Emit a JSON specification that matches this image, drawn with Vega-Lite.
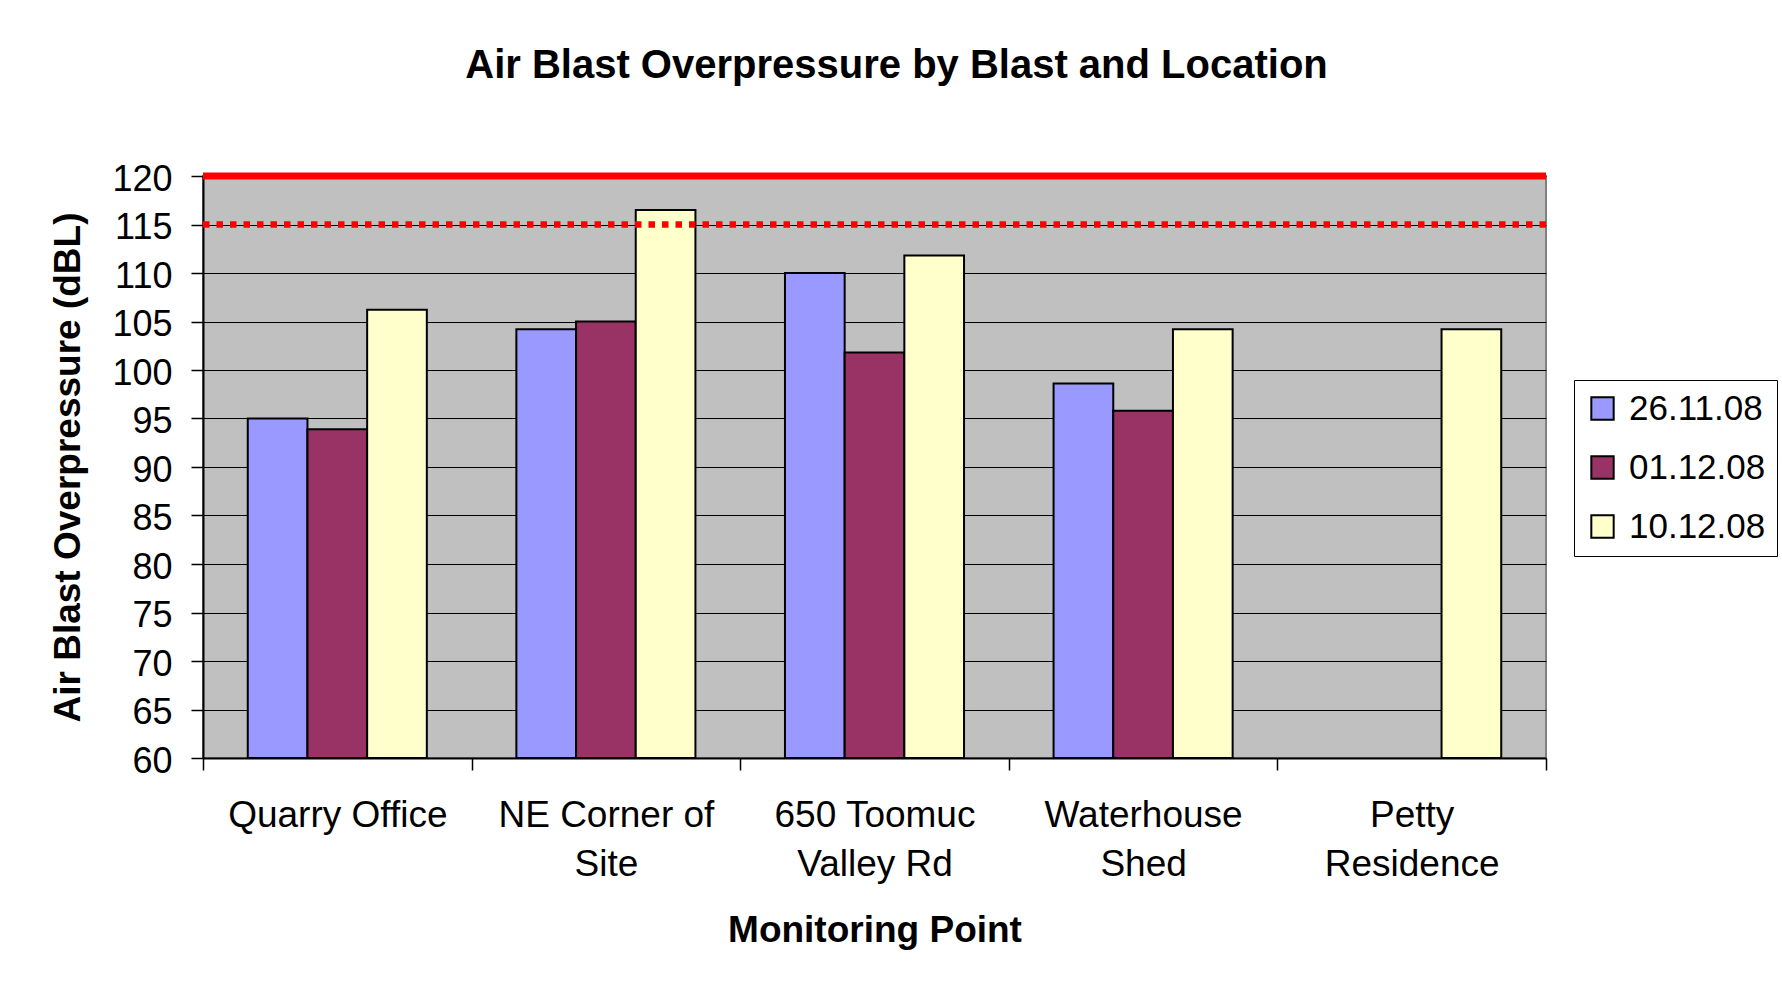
{
  "$schema": "https://vega.github.io/schema/vega-lite/v6.json",
  "width": 1343,
  "height": 582,
  "autosize": {"type": "none"},
  "padding": {"left": 203, "top": 176, "right": 236, "bottom": 234},
  "background": "white",
  "title": {
    "text": "Air Blast Overpressure by Blast and Location",
    "fontSize": 40,
    "font": "Liberation Sans",
    "fontWeight": "bold",
    "color": "black",
    "anchor": "middle",
    "frame": "group",
    "offset": 75,
    "dx": 22
  },
  "config": {
    "font": "Liberation Sans",
    "view": {"fill": "#C0C0C0", "stroke": "#808080", "strokeWidth": 2}
  },
  "datasets": {
    "blasts": [
      {"location": "Quarry Office", "blast": "26.11.08", "dBL": 95.0},
      {"location": "Quarry Office", "blast": "01.12.08", "dBL": 93.9},
      {"location": "Quarry Office", "blast": "10.12.08", "dBL": 106.2},
      {"location": "NE Corner of Site", "blast": "26.11.08", "dBL": 104.2},
      {"location": "NE Corner of Site", "blast": "01.12.08", "dBL": 105.0},
      {"location": "NE Corner of Site", "blast": "10.12.08", "dBL": 116.5},
      {"location": "650 Toomuc Valley Rd", "blast": "26.11.08", "dBL": 110.0},
      {"location": "650 Toomuc Valley Rd", "blast": "01.12.08", "dBL": 101.8},
      {"location": "650 Toomuc Valley Rd", "blast": "10.12.08", "dBL": 111.8},
      {"location": "Waterhouse Shed", "blast": "26.11.08", "dBL": 98.6},
      {"location": "Waterhouse Shed", "blast": "01.12.08", "dBL": 95.8},
      {"location": "Waterhouse Shed", "blast": "10.12.08", "dBL": 104.2},
      {"location": "Petty Residence", "blast": "10.12.08", "dBL": 104.2}
    ],
    "limitHigh": [{"dBL": 120}],
    "limitLow": [{"dBL": 115}]
  },
  "layer": [
    {
      "data": {"name": "blasts"},
      "mark": {"type": "bar", "stroke": "black", "strokeWidth": 2},
      "encoding": {
        "x": {
          "field": "location",
          "type": "nominal",
          "sort": ["Quarry Office", "NE Corner of Site", "650 Toomuc Valley Rd", "Waterhouse Shed", "Petty Residence"],
          "scale": {"paddingInner": 0, "paddingOuter": 0},
          "title": "Monitoring Point",
          "axis": {
            "labelAngle": 0,
            "labelLimit": 0,
            "labelExpr": "datum.value == 'NE Corner of Site' ? ['NE Corner of', 'Site'] : datum.value == '650 Toomuc Valley Rd' ? ['650 Toomuc', 'Valley Rd'] : datum.value == 'Waterhouse Shed' ? ['Waterhouse', 'Shed'] : datum.value == 'Petty Residence' ? ['Petty', 'Residence'] : datum.value",
            "labelFontSize": 37,
            "labelLineHeight": 49,
            "labelColor": "black",
            "labelPadding": 27,
            "labelBaseline": "top",
            "tickBand": "extent",
            "tickSize": 12,
            "tickColor": "black",
            "tickWidth": 1.5,
            "domainColor": "black",
            "domainWidth": 2,
            "grid": false,
            "titleFontSize": 37,
            "titleFontWeight": "bold",
            "titleColor": "black",
            "titlePadding": 30
          }
        },
        "xOffset": {
          "field": "blast",
          "type": "nominal",
          "scale": {"domain": ["26.11.08", "01.12.08", "10.12.08"], "paddingOuter": 0.75, "paddingInner": 0}
        },
        "y": {
          "field": "dBL",
          "type": "quantitative",
          "scale": {"domain": [60, 120], "nice": false, "zero": false},
          "title": "Air Blast Overpressure (dBL)",
          "axis": {
            "values": [60, 65, 70, 75, 80, 85, 90, 95, 100, 105, 110, 115, 120],
            "grid": true,
            "gridColor": "black",
            "gridWidth": 1.2,
            "domainColor": "black",
            "domainWidth": 2,
            "tickColor": "black",
            "tickSize": 12,
            "tickWidth": 1.5,
            "labelFontSize": 36,
            "labelColor": "black",
            "labelPadding": 19,
            "labelOffset": 3,
            "titleFontSize": 37,
            "titleFontWeight": "bold",
            "titleColor": "black",
            "titlePadding": 24
          }
        },
        "y2": {"datum": 60},
        "color": {
          "field": "blast",
          "type": "nominal",
          "scale": {"domain": ["26.11.08", "01.12.08", "10.12.08"], "range": ["#9999FF", "#993366", "#FFFFCC"]},
          "legend": {
            "orient": "none",
            "legendX": 1371,
            "legendY": 204,
            "title": null,
            "strokeColor": "black",
            "fillColor": "white",
            "padding": 11,
            "labelFontSize": 35,
            "labelColor": "black",
            "labelOffset": 9,
            "symbolType": "square",
            "symbolSize": 500,
            "symbolStrokeColor": "black",
            "symbolStrokeWidth": 2,
            "symbolOpacity": 1,
            "rowPadding": 23
          }
        }
      }
    },
    {
      "data": {"name": "limitHigh"},
      "mark": {"type": "rule", "color": "#FF0000", "strokeWidth": 7},
      "encoding": {
        "y": {
          "field": "dBL",
          "type": "quantitative",
          "title": "Air Blast Overpressure (dBL)"
        }
      }
    },
    {
      "data": {"name": "limitLow"},
      "mark": {"type": "rule", "color": "#FF0000", "strokeWidth": 6.5, "strokeDash": [6.5, 7]},
      "encoding": {
        "y": {
          "field": "dBL",
          "type": "quantitative",
          "title": "Air Blast Overpressure (dBL)"
        }
      }
    }
  ]
}
